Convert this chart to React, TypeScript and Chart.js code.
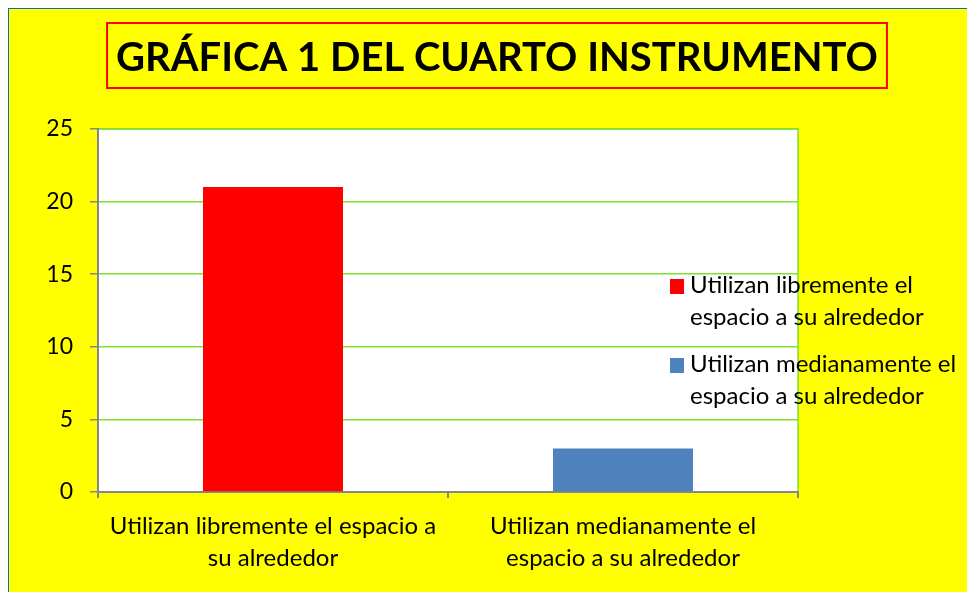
import React, { useEffect, useRef } from "react";
import { Chart, registerables } from "chart.js";

Chart.register(...registerables);

const chartTitle = "GRÁFICA 1 DEL CUARTO INSTRUMENTO";
const categories = [
  ["Utilizan libremente el espacio a", "su alrededor"],
  ["Utilizan medianamente el", "espacio a su alrededor"],
];
const legendLabels = [
  ["Utilizan libremente el", "espacio a su alrededor"],
  ["Utilizan medianamente el", "espacio a su alrededor"],
];
const values = [21, 3];
const barColors = ["#ff0000", "#4f81bd"];
const yMin = 0;
const yMax = 25;
const yStep = 5;

const FONT = "Lato, 'Open Sans', sans-serif";
const GREEN = "#80e02e";
const GRAY = "#868686";

const decorPlugin = {
  id: "decor",
  beforeDraw(chart: any) {
    const { ctx, chartArea: a, width, height } = chart;
    ctx.save();
    ctx.fillStyle = "#ffff00";
    ctx.fillRect(0, 0, width, height);
    ctx.fillStyle = "#ffffff";
    ctx.fillRect(a.left, a.top, a.right - a.left, a.bottom - a.top);
    ctx.strokeStyle = GREEN;
    ctx.lineWidth = 1.5;
    ctx.strokeRect(a.left, a.top, a.right - a.left, a.bottom - a.top);
    ctx.restore();
  },
  afterDraw(chart: any) {
    const { ctx } = chart;
    ctx.save();
    // title box
    ctx.font = `bold 40px ${FONT}`;
    ctx.textBaseline = "middle";
    ctx.textAlign = "center";
    const cx = chart.width / 2 + 5;
    const w = ctx.measureText(chartTitle).width;
    const boxW = w + 18;
    ctx.strokeStyle = "#ff0000";
    ctx.lineWidth = 2;
    ctx.strokeRect(cx - boxW / 2, 14, boxW, 65);
    ctx.fillStyle = "#000000";
    ctx.fillText(chartTitle, cx, 49);

    // legend
    ctx.font = `24px ${FONT}`;
    ctx.textAlign = "left";
    ctx.textBaseline = "alphabetic";
    const baselines = [284, 363];
    legendLabels.forEach((lines, i) => {
      const b = baselines[i];
      ctx.fillStyle = barColors[i];
      ctx.fillRect(661, b - 14, 14, 15);
      ctx.fillStyle = "#000000";
      lines.forEach((ln, j) => ctx.fillText(ln, 681, b + j * 32));
    });
    ctx.restore();
  },
};

export default function App() {
  const ref = useRef<HTMLCanvasElement>(null);
  useEffect(() => {
    if (!ref.current) return;
    const chart = new Chart(ref.current, {
      type: "bar",
      data: {
        labels: categories as any,
        datasets: [
          {
            data: values,
            backgroundColor: barColors,
            barPercentage: 0.4,
            categoryPercentage: 1,
          },
        ],
      },
      options: {
        animation: false,
        responsive: false,
        maintainAspectRatio: false,
        layout: { padding: { top: 120, right: 177, left: 0, bottom: 0 } },
        plugins: {
          legend: { display: false },
          title: { display: false },
          tooltip: { enabled: false },
        },
        scales: {
          x: {
            offset: true,
            afterFit: (s: any) => {
              s.height = 100;
            },
            grid: {
              offset: true,
              drawOnChartArea: false,
              tickLength: 6,
              tickColor: GRAY,
              lineWidth: 2,
            },
            border: { color: GRAY, width: 2 },
            ticks: {
              color: "#000000",
              font: { family: FONT, size: 24, lineHeight: 1.33 },
              padding: 12,
              maxRotation: 0,
              autoSkip: false,
            },
          },
          y: {
            min: yMin,
            max: yMax,
            afterFit: (s: any) => {
              s.width = 89;
            },
            grid: {
              color: GREEN,
              lineWidth: 1.5,
              tickColor: GRAY,
              tickLength: 8,
            },
            border: { color: GRAY, width: 2 },
            ticks: {
              stepSize: yStep,
              color: "#000000",
              font: { family: FONT, size: 23 },
              padding: 17,
            },
          },
        },
      },
      plugins: [decorPlugin],
    });
    return () => chart.destroy();
  }, []);

  return (
    <div
      style={{
        width: 967,
        height: 584,
        borderTop: "1px solid #0070c0",
        borderLeft: "1px solid #0070c0",
        background: "#ffff00",
        overflow: "hidden",
      }}
    >
      <canvas ref={ref} width={966} height={583} style={{ display: "block" }} />
    </div>
  );
}
